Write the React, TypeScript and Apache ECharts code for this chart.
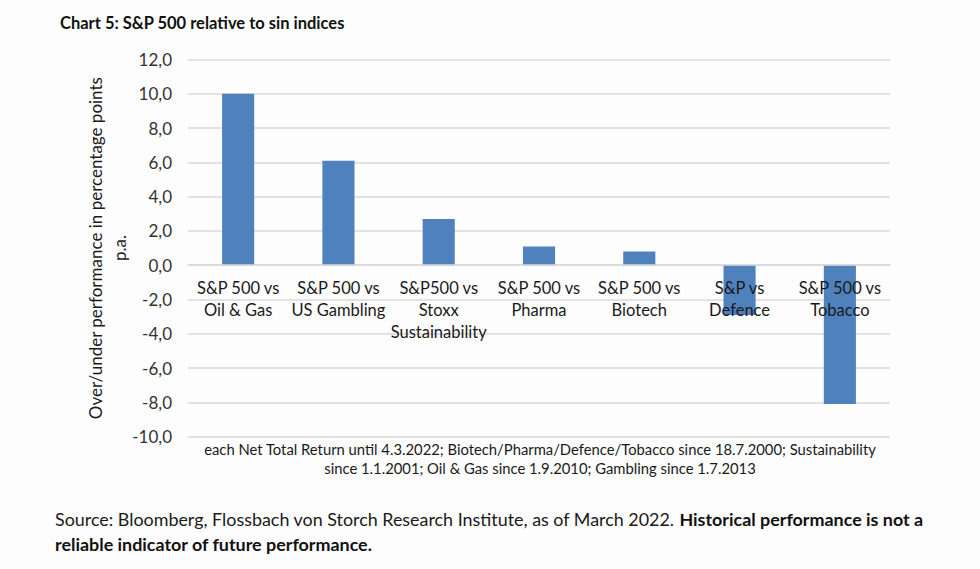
import React, { useEffect, useRef } from "react";
import * as echarts from "echarts";

const categories = [
  "S&P 500 vs\nOil & Gas",
  "S&P 500 vs\nUS Gambling",
  "S&P500 vs\nStoxx\nSustainability",
  "S&P 500 vs\nPharma",
  "S&P 500 vs\nBiotech",
  "S&P vs\nDefence",
  "S&P 500 vs\nTobacco",
];
const values = [10.0, 6.1, 2.7, 1.1, 0.8, -2.9, -8.1];

const titleText = "Chart 5: S&P 500 relative to sin indices";
const yAxisName = "Over/under performance in percentage points\np.a.";
const noteText =
  "each Net Total Return until 4.3.2022; Biotech/Pharma/Defence/Tobacco since 18.7.2000; Sustainability\nsince 1.1.2001; Oil & Gas since 1.9.2010; Gambling since 1.7.2013";
const sourceNormal = "Source: Bloomberg, Flossbach von Storch Research Institute, as of March 2022. ";
const sourceBold1 = "Historical performance is not a";
const sourceBold2 = "reliable indicator of future performance.";

const FONT = "Lato, 'Open Sans', sans-serif";

export default function App() {
  const ref = useRef<HTMLDivElement>(null);
  useEffect(() => {
    document.body.style.margin = "0";
    const chart = echarts.init(ref.current!, null, { renderer: "svg" });
    const top = 59.5;
    const bottom = 132.3;
    const plotH = 569 - top - bottom;
    const zeroOffset = -(plotH * 10) / 22;
    chart.setOption({
      animation: false,
      backgroundColor: "#fdfdfd",
      textStyle: { fontFamily: FONT },
      grid: { left: 188, right: 90, top, bottom },
      xAxis: {
        type: "category",
        data: categories,
        z: 10,
        offset: zeroOffset,
        axisLine: { onZero: false, lineStyle: { color: "#d9d9d9", width: 1.5 } },
        axisTick: { show: false },
        axisLabel: {
          interval: 0,
          color: "#1a1a1a",
          fontSize: 16.5,
          lineHeight: 22,
          margin: 12,
          fontFamily: FONT,
        },
      },
      yAxis: {
        type: "value",
        min: -10,
        max: 12,
        interval: 2,
        name: yAxisName,
        nameLocation: "middle",
        nameGap: 57,
        nameMoveOverlap: false,
        nameTextStyle: { fontSize: 17, color: "#1a1a1a", lineHeight: 24, fontFamily: FONT },
        axisLine: { show: false, onZero: false },
        axisTick: { show: false },
        axisLabel: {
          color: "#333",
          fontSize: 17,
          margin: 16,
          fontFamily: FONT,
          formatter: (v: number) => v.toFixed(1).replace(".", ","),
        },
        splitLine: { lineStyle: { color: "#d9d9d9", width: 1.5 } },
      },
      series: [
        {
          type: "bar",
          data: values,
          barWidth: "32%",
          itemStyle: { color: "#4f81bd" },
        },
      ],
      graphic: [
        {
          type: "text",
          left: 60,
          top: 14,
          style: { text: titleText, font: `bold 16.5px ${FONT}`, fill: "#111" },
        },
        {
          type: "text",
          x: 540,
          y: 439.5,
          style: {
            text: noteText,
            font: `14.8px ${FONT}`,
            fill: "#1a1a1a",
            align: "center",
            lineHeight: 19,
          },
        },
        {
          type: "text",
          x: 55,
          y: 506.5,
          style: {
            rich: {
              n: { font: `17.9px ${FONT}`, fill: "#1a1a1a", lineHeight: 25 },
              b: { font: `bold 17.9px ${FONT}`, fill: "#111", lineHeight: 25 },
            },
            text: `{n|${sourceNormal}}{b|${sourceBold1}}\n{b|${sourceBold2}}`,
          },
        },
      ],
    });
    return () => chart.dispose();
  }, []);
  return (
    <div
      ref={ref}
      style={{ position: "absolute", left: 0, top: 0, width: 980, height: 569 }}
    />
  );
}
